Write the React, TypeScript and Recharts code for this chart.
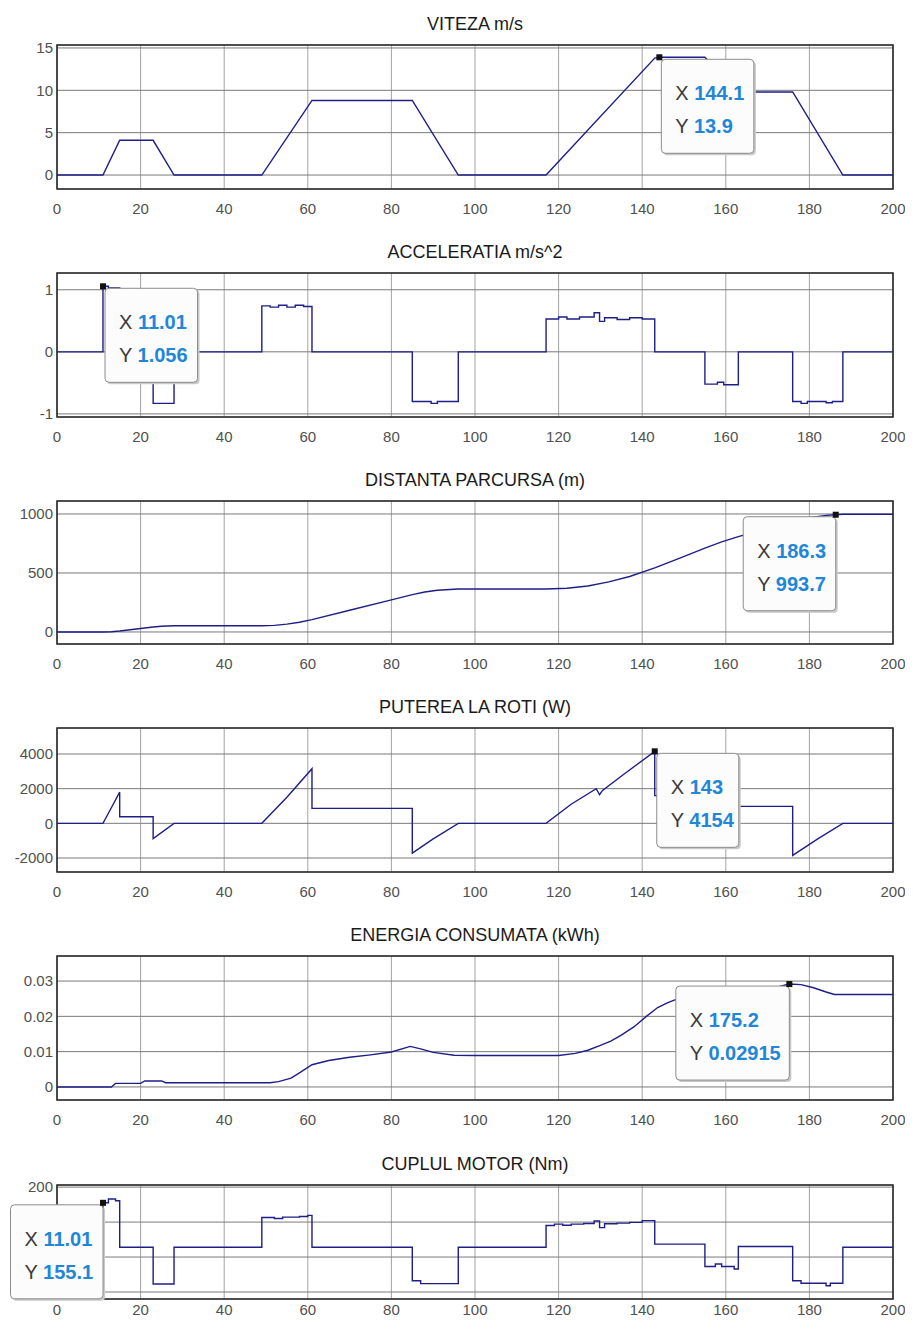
import React from "react"
import {
	LineChart,
	Line,
	XAxis,
	YAxis,
	CartesianGrid,
	ReferenceArea,
	ReferenceDot,
} from "recharts"

// time axis, seconds
const timeTicks = [0, 20, 40, 60, 80, 100, 120, 140, 160, 180, 200]

const titles = [
	"VITEZA m/s",
	"ACCELERATIA m/s^2",
	"DISTANTA PARCURSA (m)",
	"PUTEREA LA ROTI (W)",
	"ENERGIA CONSUMATA (kWh)",
	"CUPLUL MOTOR (Nm)",
]

// VITEZA
const speedT = [0, 11, 15, 23, 28, 49, 61, 85, 96, 117, 143, 144.1, 155, 163, 176, 188, 200]
const speedV = [0, 0, 4.1, 4.1, 0, 0, 8.8, 8.8, 0, 0, 13.8, 13.9, 13.9, 9.8, 9.8, 0, 0]

// ACCELERATIA (step levels, each value holds until next time)
const accelT = [
	0, 11, 12.3, 15, 23, 28, 49, 51, 53, 55, 57, 59, 61, 85, 89.5, 91, 96, 117, 120, 122,
	125, 128.5, 129.8, 131, 134, 137, 140, 143, 155, 158, 159.5, 163, 176, 178, 179.5, 184,
	185.5, 188, 200,
]
const accelA = [
	0, 1.056, 1.03, 0, -0.83, 0, 0.74, 0.72, 0.75, 0.72, 0.75, 0.73, 0, -0.8, -0.83, -0.8, 0,
	0.53, 0.56, 0.53, 0.56, 0.63, 0.49, 0.55, 0.52, 0.55, 0.53, 0, -0.52, -0.49, -0.53, 0,
	-0.8, -0.83, -0.8, -0.82, -0.8, 0, 0,
]

// DISTANTA PARCURSA
const distT = [
	0, 11, 13, 15, 19, 23, 25, 28, 49, 52, 55, 58, 61, 70, 80, 85, 88, 91, 96, 117, 122, 127,
	132, 137, 143, 149, 155, 159, 163, 170, 176, 180, 184, 186.3, 188, 200,
]
const distD = [
	0, 0, 2, 8, 25, 42, 49, 53, 53, 56, 66, 82, 105, 184, 272, 316, 339, 354, 364, 364, 371,
	390, 424, 470, 543, 626, 710, 763, 808, 876, 935, 968, 988, 993.7, 998, 998,
]

// PUTEREA LA ROTI
const powerT = [
	0, 11, 13, 15, 15, 23, 23, 28, 49, 55, 61, 61, 85, 85, 90, 96, 117, 123, 129, 129.8,
	130.5, 136, 143, 143, 155, 155, 163, 163, 176, 176, 182, 188, 200,
]
const powerP = [
	0, 0, 900, 1800, 380, 380, -880, 0, 0, 1500, 3150, 860, 860, -1720, -900, 0, 0, 1100,
	2000, 1650, 1900, 2900, 4154, 1600, 1600, -1300, -950, 980, 980, -1850, -900, 0, 0,
]

// ENERGIA CONSUMATA
const energyT = [
	0, 13, 14, 20, 21, 25, 26, 51, 53, 56, 58, 61, 65, 70, 75, 80, 84.5, 87, 90, 95, 100, 120,
	124, 127, 130, 132.5, 135, 138, 141, 143.7, 146, 148.6, 155, 163, 175.2, 178, 181, 184,
	186, 200,
]
const energyE = [
	0, 0, 0.001, 0.001, 0.0017, 0.0017, 0.0012, 0.0012, 0.0015, 0.0025, 0.004, 0.0063,
	0.0075, 0.0084, 0.0091, 0.0099, 0.0115, 0.0108, 0.0098, 0.009, 0.0089, 0.0089, 0.0095,
	0.0104, 0.0118, 0.013, 0.0147, 0.017, 0.02, 0.0225, 0.0238, 0.025, 0.0275, 0.0255,
	0.02915, 0.029, 0.0281, 0.0269, 0.0262, 0.0262,
]

// CUPLUL MOTOR (step levels)
const torqueT = [
	0, 11, 12.3, 14, 15, 23, 28, 49, 52, 54, 58, 60, 61, 85, 87, 96, 117, 119, 121, 123, 126,
	128.5, 129.8, 131, 134, 137, 140, 143, 155, 157.5, 159, 162, 163, 176, 178, 184, 185,
	188, 200,
]
const torqueN = [
	28, 155.1, 166, 161, 28, -77, 28, 113, 110, 114, 116, 119, 28, -68, -76, 28, 90, 94, 91,
	94, 96, 103, 84, 95, 97, 99, 104, 37, -27, -20, -27, -34, 30, -68, -75, -82, -75, 28, 28,
]

// y ticks per panel (grid lines), and the tick labels left visible
const speedTicks = [0, 5, 10, 15]
const accelTicks = [-1, 0, 1]
const distTicks = [0, 500, 1000]
const powerTicks = [-2000, 0, 2000, 4000]
const energyTicks = [0, 0.01, 0.02, 0.03]
const torqueTicks = [-100, 0, 100, 200]
const torqueLabels = [200] // the others sit under the data tip

// data tips
const tipX = [144.1, 11.01, 186.3, 143, 175.2, 11.01]
const tipY = [13.9, 1.056, 993.7, 4154, 0.02915, 155.1]
const tipSide = ["right", "right", "left", "right", "left", "left"]

const zip = (t: number[], v: number[]) => t.map((x, i) => ({ t: x, v: v[i] }))

const series = [
	{ data: zip(speedT, speedV), step: false, ticks: speedTicks, labels: speedTicks, domain: [-1.65, 15.35] },
	{ data: zip(accelT, accelA), step: true, ticks: accelTicks, labels: accelTicks, domain: [-1.05, 1.27] },
	{ data: zip(distT, distD), step: false, ticks: distTicks, labels: distTicks, domain: [-102, 1110] },
	{ data: zip(powerT, powerP), step: false, ticks: powerTicks, labels: powerTicks, domain: [-2808, 5500] },
	{ data: zip(energyT, energyE), step: false, ticks: energyTicks, labels: energyTicks, domain: [-0.0037, 0.0371] },
	{ data: zip(torqueT, torqueN), step: true, ticks: torqueTicks, labels: torqueLabels, domain: [-120, 206] },
]

// frame top (page px) and plot height for each panel
const frameTop = [45, 273, 501, 728, 956, 1185]
const frameH = [144, 144, 143, 144, 144, 114]

const FONT = "'Liberation Sans', Arial, Helvetica, sans-serif"
const LINE = "#1e1e88"
const TOP_PAD = 40

const DataTip = (props: any) => {
	const { cx, cy, xv, yv, side } = props
	if (cx == null || cy == null) return null
	const len = Math.max(String(xv).length, String(yv).length)
	const w = 40 + len * 10.5
	const h = 94
	const bx = side === "left" ? cx - w : cx + 2
	const by = cy + 2
	return (
		<g>
			<rect x={bx + 2} y={by + 2} width={w} height={h} rx={4} fill="#c9c9c9" />
			<rect x={bx} y={by} width={w} height={h} rx={4} fill="#fcfcfc" stroke="#8c8c8c" />
			<text x={bx + 14} y={by + 41} fontSize={20} fontFamily={FONT}>
				<tspan fill="#3a3a3a">X </tspan>
				<tspan fill="#1f86d8" fontWeight="bold">
					{String(xv)}
				</tspan>
			</text>
			<text x={bx + 14} y={by + 74} fontSize={20} fontFamily={FONT}>
				<tspan fill="#3a3a3a">Y </tspan>
				<tspan fill="#1f86d8" fontWeight="bold">
					{String(yv)}
				</tspan>
			</text>
			<rect x={cx - 3} y={cy - 3} width={6} height={6} fill="#111" />
		</g>
	)
}

const Panel = ({ i }: { i: number }) => {
	const s = series[i]
	const last = i === 5
	const xAxisH = last ? 22 : 30
	const height = TOP_PAD + frameH[i] + xAxisH
	const tick = { fontSize: 15, fill: "#505050", fontFamily: FONT }
	const yTick = (p: any) => {
		const v = p.payload.value
		if (!s.labels.includes(v)) return <g />
		return (
			<text x={p.x} y={p.y} dy="0.355em" textAnchor="end" {...tick}>
				{String(v)}
			</text>
		)
	}
	return (
		<div
			style={{
				position: "absolute",
				left: 0,
				top: frameTop[i] - 8 - TOP_PAD,
				width: 897,
				height,
			}}
		>
			<div
				style={{
					position: "absolute",
					left: 49,
					top: 9,
					width: 836,
					textAlign: "center",
					fontFamily: FONT,
					fontSize: 18,
					lineHeight: "20px",
					color: "#1a1a1a",
				}}
			>
				{titles[i]}
			</div>
			<LineChart
				width={897}
				height={height}
				data={s.data}
				margin={{ top: TOP_PAD, right: 12, left: 0, bottom: 0 }}
			>
				<CartesianGrid horizontal={false} stroke="#a3a3a3" />
				<CartesianGrid vertical={false} stroke="#7a7a7a" />
				<XAxis
					dataKey="t"
					type="number"
					domain={[0, 200]}
					ticks={timeTicks}
					allowDataOverflow
					height={xAxisH}
					axisLine={false}
					tickLine={false}
					tickSize={0}
					tickMargin={last ? 5 : 14}
					tick={tick}
				/>
				<YAxis
					type="number"
					domain={s.domain}
					ticks={s.ticks}
					allowDataOverflow
					width={49}
					axisLine={false}
					tickLine={false}
					tickSize={0}
					tickMargin={4}
					tick={yTick}
				/>
				<ReferenceArea
					x1={0}
					x2={200}
					y1={s.domain[0]}
					y2={s.domain[1]}
					fill="none"
					stroke="#2a2a2a"
					strokeWidth={1.6}
				/>
				<Line
					type={s.step ? "stepAfter" : "linear"}
					dataKey="v"
					stroke={LINE}
					strokeWidth={1.4}
					dot={false}
					activeDot={false}
					isAnimationActive={false}
				/>
				<ReferenceDot
					x={tipX[i]}
					y={tipY[i]}
					r={3}
					zIndex={3000}
					shape={(p: any) => (
						<DataTip cx={p.cx} cy={p.cy} xv={tipX[i]} yv={tipY[i]} side={tipSide[i]} />
					)}
				/>
			</LineChart>
		</div>
	)
}

const App = () => {
	return (
		<div style={{ position: "relative", width: 897, height: 1310, background: "#fff" }}>
			{titles.map((_, i) => (
				<Panel key={i} i={i} />
			))}
		</div>
	)
}

export default App
